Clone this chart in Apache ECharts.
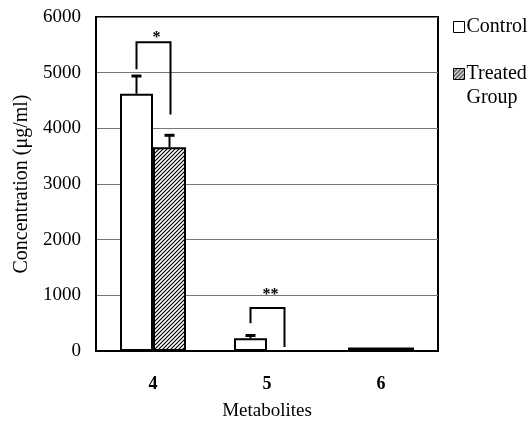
<!DOCTYPE html>
<html><head><meta charset="utf-8">
<script src="https://cdn.jsdelivr.net/npm/echarts@6/dist/echarts.min.js"></script>
<style>html,body{margin:0;padding:0;background:#fff}#c{width:532px;height:428px}</style>
</head><body><div id="c"></div>
<script>
var categories = ['4', '5', '6'];
var controlValues = [4620, 228, 65];
var controlErrors = [320, 50, 0];
var treatedValues = [3660, 0, 65];
var treatedErrors = [215, 0, 0];
// significance brackets: [categoryIndex, leftFootValue, topValue, rightFootValue, labelValue, label]
var brackets = [[0, 5060, 5545, 4250, 5690, '*'], [1, 497, 772, 72, 1075, '**']];
var yTicks = { min: 0, max: 6000, interval: 1000 };

var FONT = 'Liberation Serif';
var BAR_W = 33;

function hatch() {
  var c = document.createElement('canvas');
  c.width = 4; c.height = 4;
  var g = c.getContext('2d');
  g.fillStyle = '#fff'; g.fillRect(0, 0, 4, 4);
  g.strokeStyle = '#000'; g.lineWidth = 1.2;
  g.beginPath();
  g.moveTo(-1, 5); g.lineTo(5, -1);
  g.moveTo(-1, 1); g.lineTo(1, -1);
  g.moveTo(3, 5); g.lineTo(5, 3);
  g.stroke();
  return c;
}
var hatchPattern = { image: hatch(), repeat: 'repeat' };

var errData = [];
controlValues.forEach(function (v, i) { if (controlErrors[i] > 0) errData.push([i, v, v + controlErrors[i], -1]); });
treatedValues.forEach(function (v, i) { if (treatedErrors[i] > 0) errData.push([i, v, v + treatedErrors[i], 1]); });

var legendBase = {
  orient: 'vertical', left: 453, padding: 0,
  itemWidth: 11, itemHeight: 11, icon: 'rect',
  itemStyle: { borderWidth: 1 },
  selectedMode: false
};

var chart = echarts.init(document.getElementById('c'));
chart.setOption({
  animation: false,
  backgroundColor: '#fff',
  textStyle: { fontFamily: FONT, color: '#000' },
  grid: { left: 96, top: 17, width: 342, height: 334, show: true, borderColor: '#000', borderWidth: 2, backgroundColor: 'transparent' },
  legend: [
    Object.assign({}, legendBase, {
      data: ['Control'], top: 16,
      textStyle: { fontFamily: FONT, fontSize: 20, color: '#000', lineHeight: 22, padding: [0, 0, 0, -3] }
    }),
    Object.assign({}, legendBase, {
      data: ['Treated Group'], top: 38,
      formatter: function () { return ' \nTreated\nGroup'; },
      textStyle: { fontFamily: FONT, fontSize: 20, color: '#000', lineHeight: 24, padding: [0, 0, 0, -3] }
    })
  ],
  xAxis: {
    type: 'category', data: categories,
    name: 'Metabolites', nameLocation: 'middle', nameGap: 51,
    nameTextStyle: { fontFamily: FONT, fontSize: 19, color: '#000' },
    axisLine: { lineStyle: { color: '#000', width: 2 } },
    axisTick: { inside: true, length: 6, lineStyle: { color: '#000', width: 1 } },
    axisLabel: { fontFamily: FONT, fontSize: 18, fontWeight: 'bold', color: '#000', margin: 24 }
  },
  yAxis: {
    type: 'value', min: yTicks.min, max: yTicks.max, interval: yTicks.interval,
    name: 'Concentration (μg/ml)', nameLocation: 'middle', nameGap: 64,
    nameTextStyle: { fontFamily: FONT, fontSize: 20, color: '#000' },
    axisLine: { show: true, lineStyle: { color: '#000', width: 2 } },
    axisTick: { show: false },
    axisLabel: { fontFamily: FONT, fontSize: 19, color: '#000', margin: 15, formatter: function (v) { return String(v); } },
    splitLine: { lineStyle: { color: '#777', width: 1 } }
  },
  series: [
    { name: 'Control', type: 'bar', data: controlValues, barWidth: BAR_W, barGap: '0%',
      itemStyle: { color: '#fff', borderColor: '#000', borderWidth: 2 } },
    { name: 'Treated Group', type: 'bar', data: treatedValues, barWidth: BAR_W,
      itemStyle: { color: hatchPattern, borderColor: '#000', borderWidth: 2 } },
    { type: 'custom', data: errData, z: 5,
      renderItem: function (params, api) {
        var lo = api.coord([api.value(0), api.value(1)]);
        var hi = api.coord([api.value(0), api.value(2)]);
        var x = lo[0] + api.value(3) * BAR_W / 2;
        return { type: 'group', children: [
          { type: 'line', shape: { x1: x, y1: lo[1], x2: x, y2: hi[1] }, style: { stroke: '#000', lineWidth: 2 } },
          { type: 'line', shape: { x1: x - 5, y1: hi[1], x2: x + 5, y2: hi[1] }, style: { stroke: '#000', lineWidth: 3 } }
        ] };
      } },
    { type: 'custom', data: brackets, z: 5,
      renderItem: function (params, api) {
        var i = api.value(0);
        var a = api.coord([i, api.value(1)]);
        var t = api.coord([i, api.value(2)]);
        var b = api.coord([i, api.value(3)]);
        var l = api.coord([i, api.value(4)]);
        var xl = a[0] - BAR_W / 2, xr = a[0] + BAR_W / 2 + 1;
        return { type: 'group', children: [
          { type: 'polyline', shape: { points: [[xl, a[1]], [xl, t[1]], [xr, t[1]], [xr, b[1]]] },
            style: { stroke: '#000', lineWidth: 2, fill: null } },
          { type: 'text', x: (xl + xr) / 2 + 3, y: l[1] + 4,
            style: { text: brackets[params.dataIndex][5], font: 'bold 16px "Liberation Serif"', fill: '#000', align: 'center', verticalAlign: 'middle' } }
        ] };
      } }
  ]
});
</script></body></html>
